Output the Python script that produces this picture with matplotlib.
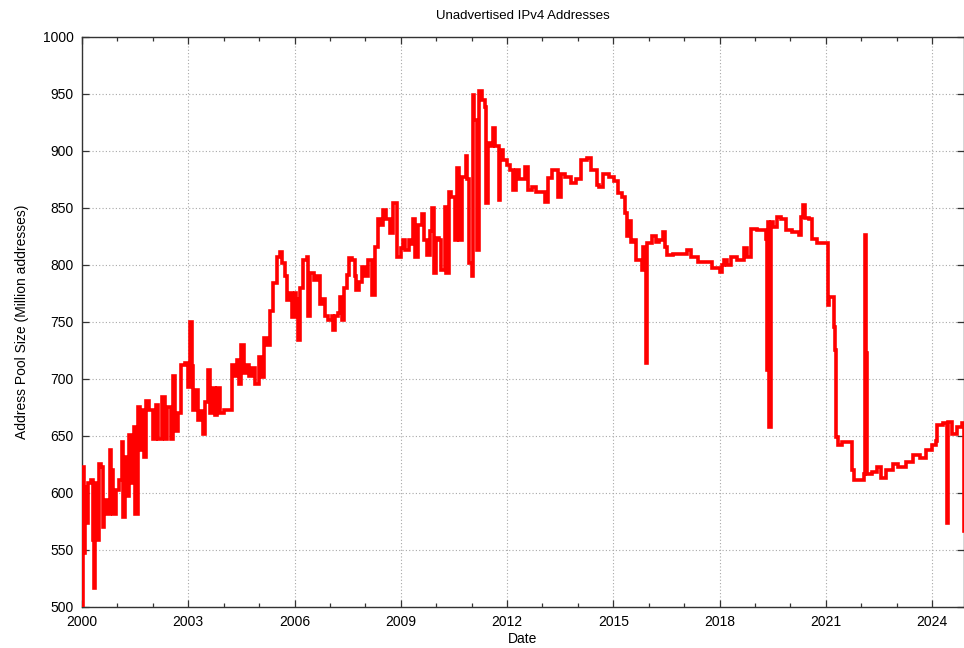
import matplotlib
matplotlib.use("Agg")
import matplotlib.pyplot as plt
from matplotlib.ticker import MultipleLocator, FixedLocator

plt.rcParams['font.family'] = ['Liberation Sans', 'DejaVu Sans']

years = [
    2000.00, 2000.02, 2000.04, 2000.06, 2000.09, 2000.13, 2000.18, 2000.26, 2000.30, 2000.33,
    2000.37, 2000.40, 2000.47, 2000.53, 2000.58, 2000.63, 2000.70, 2000.78, 2000.82, 2000.87,
    2000.95, 2001.04, 2001.12, 2001.15, 2001.20, 2001.28, 2001.33, 2001.40, 2001.46, 2001.50,
    2001.57, 2001.63, 2001.68, 2001.76, 2001.82, 2001.90, 2002.00, 2002.08, 2002.15, 2002.25,
    2002.33, 2002.40, 2002.50, 2002.57, 2002.63, 2002.70, 2002.80, 2002.90, 2002.98, 2003.05,
    2003.10, 2003.14, 2003.20, 2003.28, 2003.36, 2003.42, 2003.48, 2003.55, 2003.60, 2003.68,
    2003.75, 2003.82, 2003.90, 2004.00, 2004.18, 2004.24, 2004.30, 2004.38, 2004.44, 2004.50,
    2004.56, 2004.64, 2004.72, 2004.80, 2004.88, 2005.00, 2005.06, 2005.13, 2005.22, 2005.30,
    2005.40, 2005.50, 2005.58, 2005.66, 2005.72, 2005.78, 2005.86, 2005.92, 2006.00, 2006.05,
    2006.10, 2006.16, 2006.24, 2006.35, 2006.38, 2006.45, 2006.55, 2006.63, 2006.71, 2006.80,
    2006.86, 2006.95, 2007.05, 2007.08, 2007.15, 2007.22, 2007.28, 2007.33, 2007.40, 2007.47,
    2007.55, 2007.63, 2007.70, 2007.75, 2007.82, 2007.90, 2008.00, 2008.07, 2008.18, 2008.27,
    2008.35, 2008.42, 2008.50, 2008.58, 2008.69, 2008.78, 2008.88, 2009.00, 2009.05, 2009.12,
    2009.22, 2009.30, 2009.34, 2009.40, 2009.48, 2009.60, 2009.65, 2009.75, 2009.82, 2009.87,
    2009.93, 2010.00, 2010.08, 2010.15, 2010.24, 2010.28, 2010.35, 2010.42, 2010.52, 2010.60,
    2010.65, 2010.72, 2010.83, 2010.88, 2010.94, 2011.00, 2011.03, 2011.08, 2011.15, 2011.20,
    2011.28, 2011.37, 2011.42, 2011.47, 2011.54, 2011.60, 2011.66, 2011.77, 2011.80, 2011.90,
    2012.00, 2012.08, 2012.16, 2012.24, 2012.35, 2012.50, 2012.58, 2012.70, 2012.82, 2012.96,
    2013.06, 2013.15, 2013.26, 2013.36, 2013.43, 2013.52, 2013.65, 2013.80, 2013.95, 2014.10,
    2014.25, 2014.38, 2014.53, 2014.60, 2014.70, 2014.88, 2015.03, 2015.12, 2015.26, 2015.33,
    2015.40, 2015.45, 2015.50, 2015.58, 2015.65, 2015.80, 2015.84, 2015.93, 2015.96, 2016.08,
    2016.20, 2016.30, 2016.40, 2016.47, 2016.53, 2016.70, 2016.90, 2017.07, 2017.20, 2017.40,
    2017.60, 2017.80, 2018.00, 2018.07, 2018.14, 2018.22, 2018.32, 2018.50, 2018.70, 2018.78,
    2018.90, 2019.05, 2019.20, 2019.32, 2019.35, 2019.37, 2019.41, 2019.44, 2019.52, 2019.63,
    2019.75, 2019.88, 2020.05, 2020.25, 2020.30, 2020.35, 2020.40, 2020.52, 2020.62, 2020.75,
    2020.96, 2021.00, 2021.05, 2021.10, 2021.19, 2021.23, 2021.26, 2021.30, 2021.35, 2021.45,
    2021.65, 2021.73, 2021.80, 2022.00, 2022.08, 2022.12, 2022.14, 2022.16, 2022.30, 2022.45,
    2022.55, 2022.70, 2022.90, 2023.05, 2023.27, 2023.45, 2023.65, 2023.84, 2024.00, 2024.10,
    2024.15, 2024.30, 2024.43, 2024.46, 2024.57, 2024.70, 2024.85, 2024.90,
]

pool_size = [
    500, 591, 623, 547, 605, 574, 609, 611, 559, 517,
    609, 559, 625, 623, 570, 594, 582, 638, 620, 582,
    603, 611, 645, 579, 632, 597, 651, 609, 658, 582,
    675, 638, 673, 632, 681, 673, 647, 677, 647, 684,
    647, 675, 647, 703, 654, 670, 712, 714, 693, 750,
    711, 673, 690, 664, 672, 652, 680, 708, 670, 692,
    668, 692, 670, 673, 673, 712, 703, 717, 696, 730,
    705, 712, 703, 710, 696, 719, 702, 736, 730, 760,
    784, 807, 811, 802, 790, 769, 775, 754, 775, 770,
    734, 780, 804, 807, 755, 793, 787, 790, 766, 770,
    755, 752, 755, 743, 755, 758, 772, 752, 780, 791,
    806, 804, 790, 778, 785, 798, 790, 804, 774, 816,
    840, 835, 848, 840, 828, 854, 807, 815, 822, 813,
    822, 818, 840, 807, 835, 845, 822, 809, 830, 850,
    793, 824, 822, 796, 851, 793, 864, 860, 822, 885,
    822, 877, 896, 875, 802, 790, 949, 927, 813, 953,
    945, 939, 854, 907, 904, 920, 904, 857, 901, 892,
    888, 883, 866, 883, 875, 886, 866, 868, 864, 864,
    855, 876, 883, 883, 860, 880, 877, 872, 875, 892,
    894, 883, 870, 868, 880, 877, 874, 863, 860, 846,
    825, 839, 820, 822, 804, 796, 816, 714, 819, 825,
    820, 822, 829, 816, 809, 810, 810, 813, 807, 803,
    803, 797, 794, 800, 804, 800, 807, 804, 815, 807,
    832, 831, 831, 823, 708, 838, 658, 838, 833, 842,
    840, 831, 829, 826, 842, 853, 841, 840, 823, 819,
    819, 819, 765, 772, 772, 746, 725, 649, 642, 645,
    645, 620, 611, 611, 617, 826, 723, 617, 618, 623,
    613, 620, 625, 623, 627, 633, 631, 638, 642, 646,
    660, 661, 574, 662, 652, 658, 661, 567,
]

x_major = [2000, 2003, 2006, 2009, 2012, 2015, 2018, 2021, 2024]
x_labels = [str(v) for v in x_major]
y_major = [500, 550, 600, 650, 700, 750, 800, 850, 900, 950, 1000]

fig = plt.figure(figsize=(9.64, 6.48), dpi=100)
ax = fig.add_axes([82/964, 1 - 607/648, 1 - 82/964, (607 - 37)/648])

ax.plot(years, pool_size, color='#ff0000', linewidth=2.6, drawstyle='steps-post',
        solid_joinstyle='miter', zorder=3)

ax.set_xlim(2000, 2024.903)
ax.set_ylim(500, 1000)

ax.xaxis.set_major_locator(FixedLocator(x_major))
ax.set_xticklabels(x_labels)
ax.xaxis.set_minor_locator(MultipleLocator(1))
ax.yaxis.set_major_locator(FixedLocator(y_major))

ax.tick_params(axis='both', which='major', direction='in', length=5, width=0.9,
               color='#333333', labelsize=10, top=True, right=True, labelcolor='black', pad=6)
ax.tick_params(axis='x', which='minor', direction='in', length=3, width=0.9,
               color='#333333', top=True)

for s in ax.spines.values():
    s.set_color('#333333')
    s.set_linewidth(1.0)

ax.grid(True, which='major', color='#a8a8a8', linestyle=(0, (1, 2)), linewidth=0.8)
ax.set_axisbelow(True)

ax.set_title('Unadvertised IPv4 Addresses', fontsize=9.5, pad=13)
ax.set_xlabel('Date', fontsize=10, labelpad=2)
ax.set_ylabel('Address Pool Size (Million addresses)', fontsize=10, labelpad=10)

fig.savefig('out.png', dpi=100)
